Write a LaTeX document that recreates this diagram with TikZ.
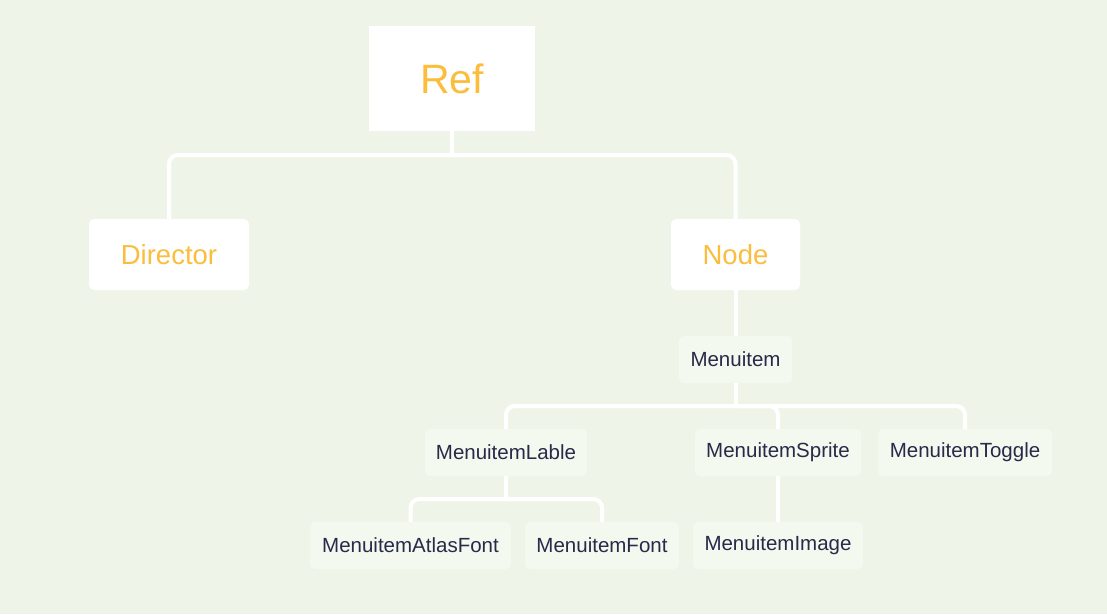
\documentclass[tikz,border=0pt]{standalone}
\usepackage{fontspec}
\setmainfont{Liberation Sans}
\definecolor{bgc}{HTML}{EEF5E8}
\definecolor{smallfill}{HTML}{F4F9EF}
\definecolor{txtdark}{HTML}{272A48}
\definecolor{txtorange}{HTML}{FBBD3C}
\begin{document}
\begin{tikzpicture}[x=1pt,y=-1pt,
  bigbox/.style={fill=white,draw=none,inner sep=0pt,text=txtorange},
  midbox/.style={fill=white,draw=none,rounded corners=5pt,inner sep=0pt,text=txtorange,minimum height=71pt,font=\fontsize{27.5}{30}\selectfont},
  smallbox/.style={fill=smallfill,draw=none,rounded corners=5pt,inner sep=0pt,text=txtdark,minimum height=47pt,font=\fontsize{20.5}{24}\selectfont},
  conn/.style={draw=white,line width=4pt,rounded corners=9pt}]
\fill[bgc] (0,0) rectangle (1107,614);
\useasboundingbox (0,0) rectangle (1107,614);
\node[bigbox,minimum width=166pt,minimum height=105pt,font=\fontsize{41}{44}\selectfont] (ref) at (452,78.5) {Ref};
\node[midbox,minimum width=160pt] (director) at (169,254.5) {Director};
\node[midbox,minimum width=129pt] (node) at (735.5,254.5) {Node};
\node[smallbox,minimum width=113pt] (menuitem) at (735.5,359.5) {Menuitem};
\node[smallbox,minimum width=162pt] (lable) at (506,452.5) {MenuitemLable};
\node[smallbox,minimum width=166pt] (sprite) at (778,452.5) {MenuitemSprite};
\node[smallbox,minimum width=174pt] (toggle) at (965,452.5) {MenuitemToggle};
\node[smallbox,minimum width=201pt] (atlas) at (410.5,545.5) {MenuitemAtlasFont};
\node[smallbox,minimum width=154pt] (font) at (602,545.5) {MenuitemFont};
\node[smallbox,minimum width=170pt] (image) at (778,545.5) {MenuitemImage};
\coordinate (j1) at (452,155);
\coordinate (j2) at (735.5,406);
\coordinate (j3) at (506,499);
\begin{scope}[on background layer/.style={}]
\draw[conn] (director.north) |- (j1) -| (node.north);
\draw[conn] (ref.south) -- (j1);
\draw[conn] (node.south) -- (menuitem.north);
\draw[conn] (lable.north) |- (j2) -| (toggle.north);
\draw[conn] (j2) -| (sprite.north);
\draw[conn] (menuitem.south) -- (j2);
\draw[conn] (atlas.north) |- (j3) -| (font.north);
\draw[conn] (lable.south) -- (j3);
\draw[conn] (sprite.south) -- (image.north);
\end{scope}
\end{tikzpicture}
\end{document}
